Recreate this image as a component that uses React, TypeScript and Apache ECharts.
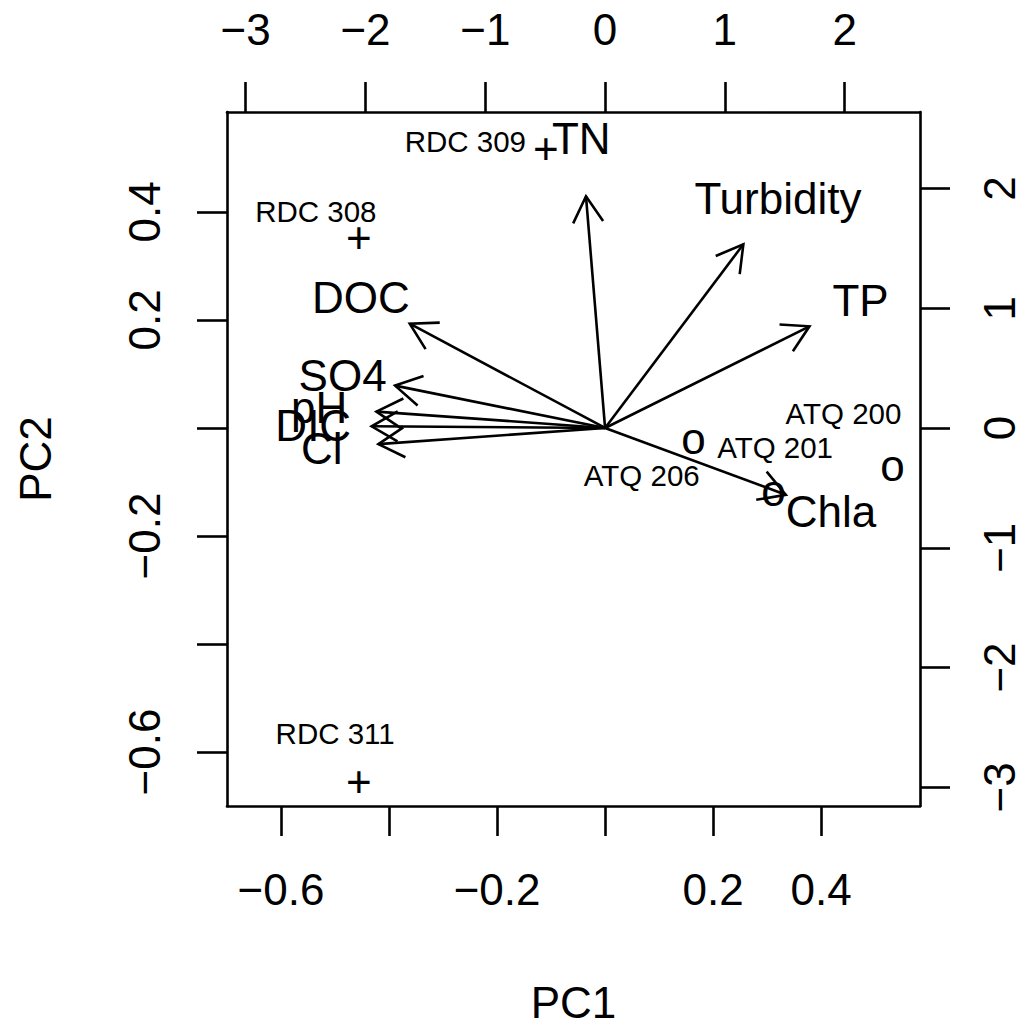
import React, { useEffect, useRef } from "react";
import * as echarts from "echarts";

// Axis ticks and labels
const pcTicks = [-0.6, -0.4, -0.2, 0, 0.2, 0.4];
const pcXLabels = [-0.6, -0.2, 0.2, 0.4];
const pcYLabels = [-0.6, -0.2, 0.2, 0.4];
const varTicks = [-3, -2, -1, 0, 1, 2];
const varLabels = [-3, -2, -1, 0, 1, 2];

// Variable loadings (label positions; arrows drawn to 0.8x)
const varNames = ["TN", "Turbidity", "TP", "DOC", "SO4", "pH", "DIC", "Cl", "Chla"];
const varPC1 = [-0.199, 1.443, 2.133, -2.038, -2.191, -2.386, -2.436, -2.365, 1.886];
const varPC2 = [2.418, 1.917, 1.061, 1.089, 0.442, 0.171, 0.018, -0.169, -0.697];

// Observations (scores)
const obsNames = ["RDC 309", "RDC 308", "RDC 311", "ATQ 206", "ATQ 200", "ATQ 201"];
const obsMarkers = ["+", "+", "+", "o", "o", "o"];
const obsPC1 = [-0.1098, -0.456, -0.456, 0.1636, 0.5322, 0.3117];
const obsPC2 = [0.5165, 0.3527, -0.6544, -0.0268, -0.0763, -0.124];
const obsLabelPC1 = [-0.2588, -0.5355, -0.4998, 0.0679, 0.4413, 0.3147];
const obsLabelPC2 = [0.5313, 0.4004, -0.5665, -0.0885, 0.0272, -0.0361];

const FONT = '"Liberation Sans", Arial, Helvetica, sans-serif';
const LW = 2.6;

const fmt = (v: number) => {
  if (Math.abs(v) < 1e-9) return "0";
  const s = String(Number(v.toFixed(1)));
  return s.replace("-", "\u2212");
};

function axisBase(extra: any) {
  return {
    type: "value",
    axisLine: { show: true, onZero: false, lineStyle: { color: "#000", width: LW } },
    splitLine: { show: false },
    nameTextStyle: { fontSize: 44, color: "#000", fontFamily: FONT },
    ...extra,
  };
}

export default function App() {
  const ref = useRef<HTMLDivElement>(null);
  useEffect(() => {
    if (!ref.current) return;
    const chart = echarts.init(ref.current, null, { renderer: "svg" });
    const tickStyle = { color: "#000", width: LW };
    const labelStyle = { fontSize: 44, color: "#000", fontFamily: FONT, margin: 61, formatter: fmt };

    const textSeries = (
      xi: number,
      names: string[],
      xs: number[],
      ys: number[],
      fontSize: number,
      dy: (t: string) => number
    ) => ({
      type: "custom",
      xAxisIndex: xi,
      yAxisIndex: xi,
      silent: true,
      data: xs.map((x, i) => [x, ys[i]]),
      renderItem: (params: any, api: any) => {
        const p = api.coord([api.value(0), api.value(1)]);
        const t = names[params.dataIndex];
        return {
          type: "text",
          x: p[0],
          y: p[1] + dy(t),
          style: {
            text: t,
            fontSize,
            fontFamily: FONT,
            fill: "#000",
            align: "center",
            verticalAlign: "middle",
          },
        };
      },
    });

    chart.setOption({
      animation: false,
      backgroundColor: "#fff",
      grid: {
        left: 227,
        top: 112,
        width: 693,
        height: 694,
        containLabel: false,
        outerBoundsMode: "none",
      },
      xAxis: [
        axisBase({
          position: "bottom",
          min: -0.7,
          max: 0.583,
          axisTick: { show: true, length: 30, customValues: pcTicks, lineStyle: tickStyle },
          axisLabel: { ...labelStyle, customValues: pcXLabels },
          name: "PC1",
          nameLocation: "middle",
          nameGap: 174,
        }),
        axisBase({
          position: "top",
          min: -3.156,
          max: 2.629,
          axisTick: { show: true, length: 30, customValues: varTicks, lineStyle: tickStyle },
          axisLabel: { ...labelStyle, customValues: varLabels },
        }),
      ],
      yAxis: [
        axisBase({
          position: "left",
          min: -0.7,
          max: 0.585,
          axisTick: { show: true, length: 30, customValues: pcTicks, lineStyle: tickStyle },
          axisLabel: { ...labelStyle, rotate: 90, customValues: pcYLabels },
          name: "PC2",
          nameLocation: "middle",
          nameGap: 170,
        }),
        axisBase({
          position: "right",
          min: -3.156,
          max: 2.638,
          axisTick: { show: true, length: 30, customValues: varTicks, lineStyle: tickStyle },
          axisLabel: { ...labelStyle, margin: 57, rotate: 90, customValues: varLabels },
        }),
      ],
      series: [
        {
          type: "custom",
          xAxisIndex: 1,
          yAxisIndex: 1,
          silent: true,
          data: varPC1.map((x, i) => [x, varPC2[i]]),
          renderItem: (params: any, api: any) => {
            const o = api.coord([0, 0]);
            const t = api.coord([api.value(0) * 0.8, api.value(1) * 0.8]);
            const ang = Math.atan2(t[1] - o[1], t[0] - o[0]);
            const L = 30;
            const a = Math.PI / 6;
            const p1 = [t[0] - L * Math.cos(ang - a), t[1] - L * Math.sin(ang - a)];
            const p2 = [t[0] - L * Math.cos(ang + a), t[1] - L * Math.sin(ang + a)];
            return {
              type: "group",
              children: [
                { type: "line", shape: { x1: o[0], y1: o[1], x2: t[0], y2: t[1] }, style: { stroke: "#000", lineWidth: LW } },
                { type: "polyline", shape: { points: [p1, t, p2] }, style: { stroke: "#000", fill: "none", lineWidth: LW } },
              ],
            };
          },
        },
        textSeries(1, varNames, varPC1, varPC2, 44, () => 0),
        textSeries(0, obsMarkers, obsPC1, obsPC2, 44, (t) => (t === "o" ? -4 : 0)),
        textSeries(0, obsNames, obsLabelPC1, obsLabelPC2, 29.5, () => 0),
      ],
    });
    return () => chart.dispose();
  }, []);
  return <div ref={ref} style={{ position: "fixed", left: 0, top: 0, width: 1024, height: 1023 }} />;
}
